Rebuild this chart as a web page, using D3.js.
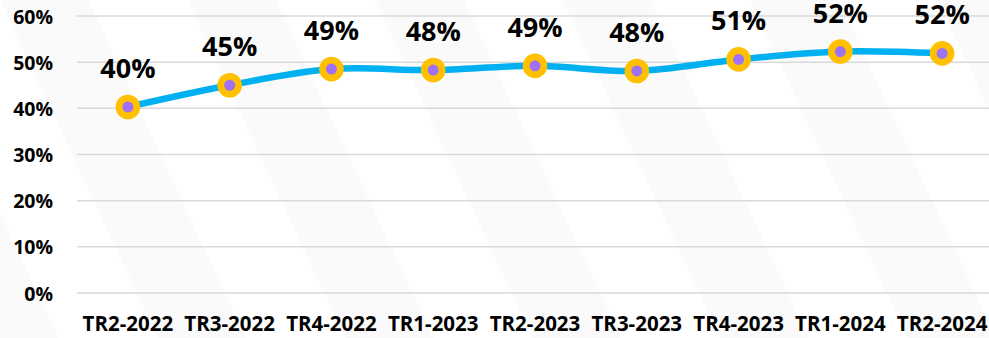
<!DOCTYPE html>
<html>
<head>
<meta charset="utf-8">
<script src="https://cdn.jsdelivr.net/npm/d3@7/dist/d3.min.js"></script>
<style>
  html, body { margin: 0; padding: 0; background: #fff; }
  svg { display: block; }
  text { font-family: "Open Sans", "Liberation Sans", sans-serif; font-weight: 700; fill: #000; }
</style>
</head>
<body>
<svg id="chart" width="989" height="338"></svg>
<script>
// Quarterly share, TR2-2022 to TR2-2024
const quarters = ["TR2-2022", "TR3-2022", "TR4-2022", "TR1-2023", "TR2-2023",
                  "TR3-2023", "TR4-2023", "TR1-2024", "TR2-2024"];
const shares = [0.403, 0.450, 0.485, 0.483, 0.492, 0.481, 0.506, 0.523, 0.519];
const yTicks = [0, 0.1, 0.2, 0.3, 0.4, 0.5, 0.6];

const W = 989, H = 338;
const svg = d3.select("#chart");

// very faint diagonal bands in the background
const defs = svg.append("defs");
const pat = defs.append("pattern")
  .attr("id", "bands")
  .attr("patternUnits", "userSpaceOnUse")
  .attr("width", 170).attr("height", 170)
  .attr("patternTransform", "rotate(-25)");
pat.append("rect").attr("width", 170).attr("height", 170).attr("fill", "#ffffff");
pat.append("rect").attr("x", 0).attr("width", 80).attr("height", 170).attr("fill", "#fafafa");
svg.append("rect").attr("width", W).attr("height", H).attr("fill", "url(#bands)");

const x = d3.scaleBand().domain(quarters).range([77, 993]);
const y = d3.scaleLinear().domain([0, 0.6]).range([293, 16]);

// horizontal gridlines
svg.append("g").selectAll("line")
  .data(yTicks)
  .join("line")
  .attr("x1", 77).attr("x2", W)
  .attr("y1", d => y(d)).attr("y2", d => y(d))
  .attr("stroke", "#d9d9d9").attr("stroke-width", 1.5);

// y axis labels
const yAxis = d3.axisLeft(y).tickValues(yTicks).tickFormat(d3.format(".0%")).tickSize(0).tickPadding(0);
const gy = svg.append("g").attr("transform", "translate(53,0)").call(yAxis);
gy.select(".domain").remove();
gy.selectAll("text")
  .attr("font-family", "Open Sans").attr("font-weight", 700)
  .attr("font-size", 19.5).attr("fill", "#000").attr("dy", "0.36em");

// x axis labels
const xAxis = d3.axisBottom(x).tickSize(0).tickPadding(0);
const gx = svg.append("g").attr("transform", "translate(0,331)").call(xAxis);
gx.select(".domain").remove();
gx.selectAll("text")
  .attr("font-family", "Open Sans").attr("font-weight", 700)
  .attr("font-size", 20.5).attr("fill", "#000").attr("dy", 0).attr("y", 0);

const cx = d => x(d) + x.bandwidth() / 2;

// series line
const line = d3.line()
  .x((d, i) => cx(quarters[i]))
  .y(d => y(d))
  .curve(d3.curveCatmullRom.alpha(0.5));

svg.append("path")
  .datum(shares)
  .attr("d", line)
  .attr("fill", "none")
  .attr("stroke", "#00b0f0")
  .attr("stroke-width", 6.5)
  .attr("stroke-linejoin", "round");

// markers
const pts = svg.append("g").selectAll("g")
  .data(shares)
  .join("g")
  .attr("transform", (d, i) => `translate(${cx(quarters[i])},${y(d)})`);
pts.append("circle").attr("r", 12.3).attr("fill", "#ffc000");
pts.append("circle").attr("r", 5.5).attr("fill", "#a070f5");

// value labels
pts.append("text")
  .attr("text-anchor", "middle")
  .attr("y", -29)
  .attr("font-size", 27)
  .text(d => d3.format(".0%")(d));
</script>
</body>
</html>
